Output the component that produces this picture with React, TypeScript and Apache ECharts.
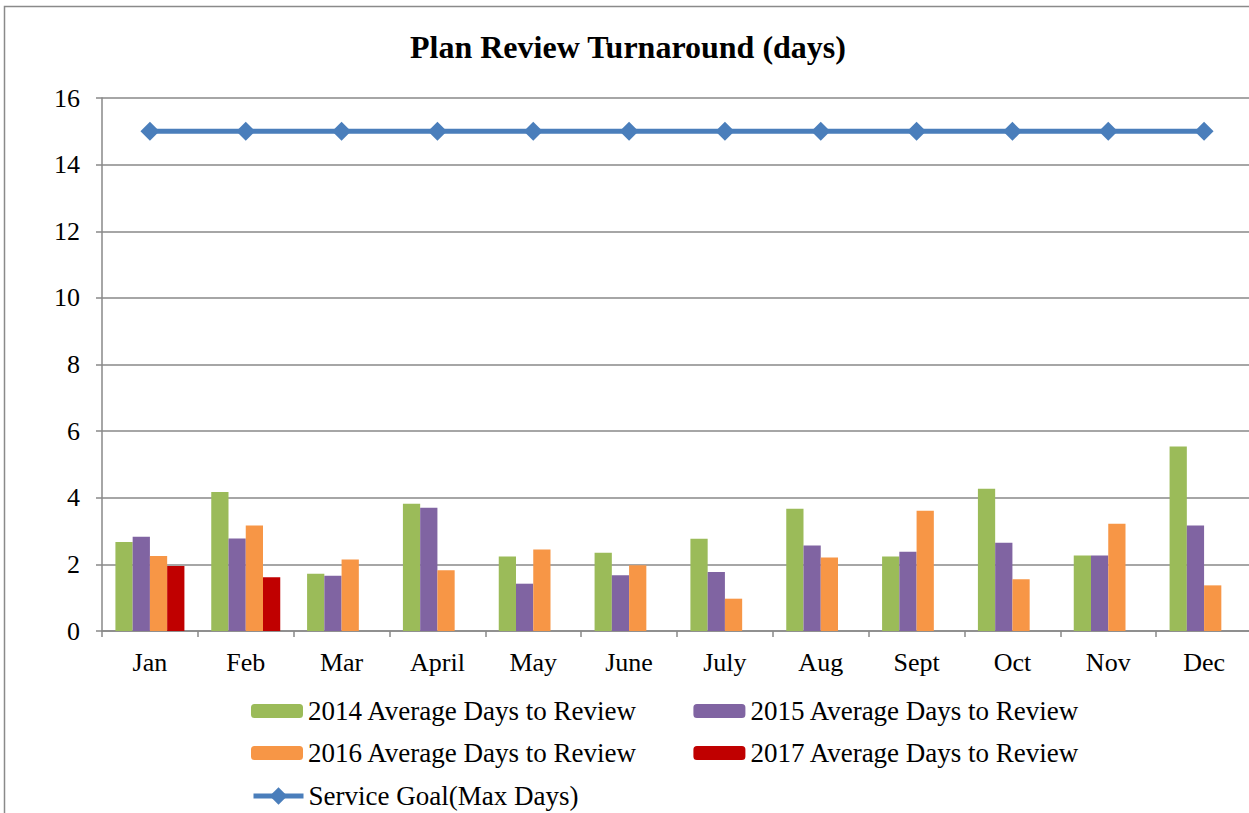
import React, { useEffect, useRef } from "react";
import * as echarts from "echarts";

const months = ["Jan", "Feb", "Mar", "April", "May", "June", "July", "Aug", "Sept", "Oct", "Nov", "Dec"];
const avg2014 = [2.67, 4.17, 1.72, 3.82, 2.24, 2.35, 2.77, 3.67, 2.24, 4.27, 2.27, 5.54];
const avg2015 = [2.83, 2.78, 1.66, 3.70, 1.42, 1.67, 1.77, 2.57, 2.38, 2.65, 2.27, 3.17];
const avg2016 = [2.25, 3.17, 2.15, 1.82, 2.45, 1.97, 0.97, 2.21, 3.61, 1.55, 3.22, 1.37];
const avg2017 = [1.95, 1.61, null, null, null, null, null, null, null, null, null, null];
const serviceGoal = [15, 15, 15, 15, 15, 15, 15, 15, 15, 15, 15, 15];
const yTicks = { min: 0, max: 16, interval: 2 };

const FONT = "'Liberation Serif', 'Times New Roman', serif";

export default function App() {
  const ref = useRef<HTMLDivElement>(null);
  useEffect(() => {
    const chart = echarts.init(ref.current!, null, { renderer: "svg" });
    const legendText = { fontFamily: FONT, fontSize: 27, color: "#000", lineHeight: 30 };
    const legendBase = {
      left: 251,
      orient: "horizontal" as const,
      itemWidth: 52,
      itemHeight: 14,
      itemGap: 56,
      textStyle: legendText,
      padding: 0,
    };
    chart.setOption({
      animation: false,
      backgroundColor: "#fff",
      title: {
        text: "Plan Review Turnaround (days)",
        left: 410,
        top: 31,
        padding: 0,
        textStyle: { fontFamily: FONT, fontSize: 32, fontWeight: "bold", color: "#000" },
      },
      graphic: [
        {
          type: "rect",
          shape: { x: 4.5, y: 6.5, width: 1400, height: 1000 },
          style: { fill: "none", stroke: "#8a8a8a", lineWidth: 1.5 },
          silent: true,
        },
      ],
      legend: [
        { ...legendBase, top: 696, data: ["2014 Average Days to Review", "2015 Average Days to Review"] },
        { ...legendBase, top: 738, data: ["2016 Average Days to Review", "2017 Average Days to Review"] },
        {
          ...legendBase,
          top: 781,
          itemWidth: 50,
          itemHeight: 22,
          lineStyle: { width: 5 },
          data: ["Service Goal(Max Days)"],
        },
      ],
      grid: { left: 102, right: 8, top: 98, bottom: 182, containLabel: false },
      xAxis: {
        type: "category",
        data: months,
        axisLine: { lineStyle: { color: "#888", width: 1.5 } },
        axisTick: { show: true, length: 6, alignWithLabel: false, lineStyle: { color: "#888", width: 1.5 } },
        axisLabel: { fontFamily: FONT, fontSize: 26, color: "#000", margin: 18 },
        splitLine: { show: false },
      },
      yAxis: {
        type: "value",
        min: yTicks.min,
        max: yTicks.max,
        interval: yTicks.interval,
        axisLine: { show: true, lineStyle: { color: "#888", width: 1.5 } },
        axisTick: { show: true, length: 6, lineStyle: { color: "#888", width: 1.5 } },
        axisLabel: { fontFamily: FONT, fontSize: 26, color: "#000", margin: 22 },
        splitLine: { show: true, lineStyle: { color: "#888", width: 1.5 } },
      },
      series: [
        {
          name: "2014 Average Days to Review",
          type: "bar",
          data: avg2014,
          itemStyle: { color: "#9BBB59" },
          barGap: "0%",
          barCategoryGap: "28%",
        },
        {
          name: "2015 Average Days to Review",
          type: "bar",
          data: avg2015,
          itemStyle: { color: "#8064A2" },
          barGap: "0%",
          barCategoryGap: "28%",
        },
        {
          name: "2016 Average Days to Review",
          type: "bar",
          data: avg2016,
          itemStyle: { color: "#F79646" },
          barGap: "0%",
          barCategoryGap: "28%",
        },
        {
          name: "2017 Average Days to Review",
          type: "bar",
          data: avg2017,
          itemStyle: { color: "#C00000" },
          barGap: "0%",
          barCategoryGap: "28%",
        },
        {
          name: "Service Goal(Max Days)",
          type: "line",
          data: serviceGoal,
          symbol: "diamond",
          symbolSize: 19,
          lineStyle: { color: "#4A7EBB", width: 5 },
          itemStyle: { color: "#4A7EBB" },
          z: 5,
        },
      ],
    });
    return () => chart.dispose();
  }, []);
  return (
    <div
      ref={ref}
      style={{ position: "fixed", left: 0, top: 0, width: 1260, height: 813, background: "#fff" }}
    />
  );
}
